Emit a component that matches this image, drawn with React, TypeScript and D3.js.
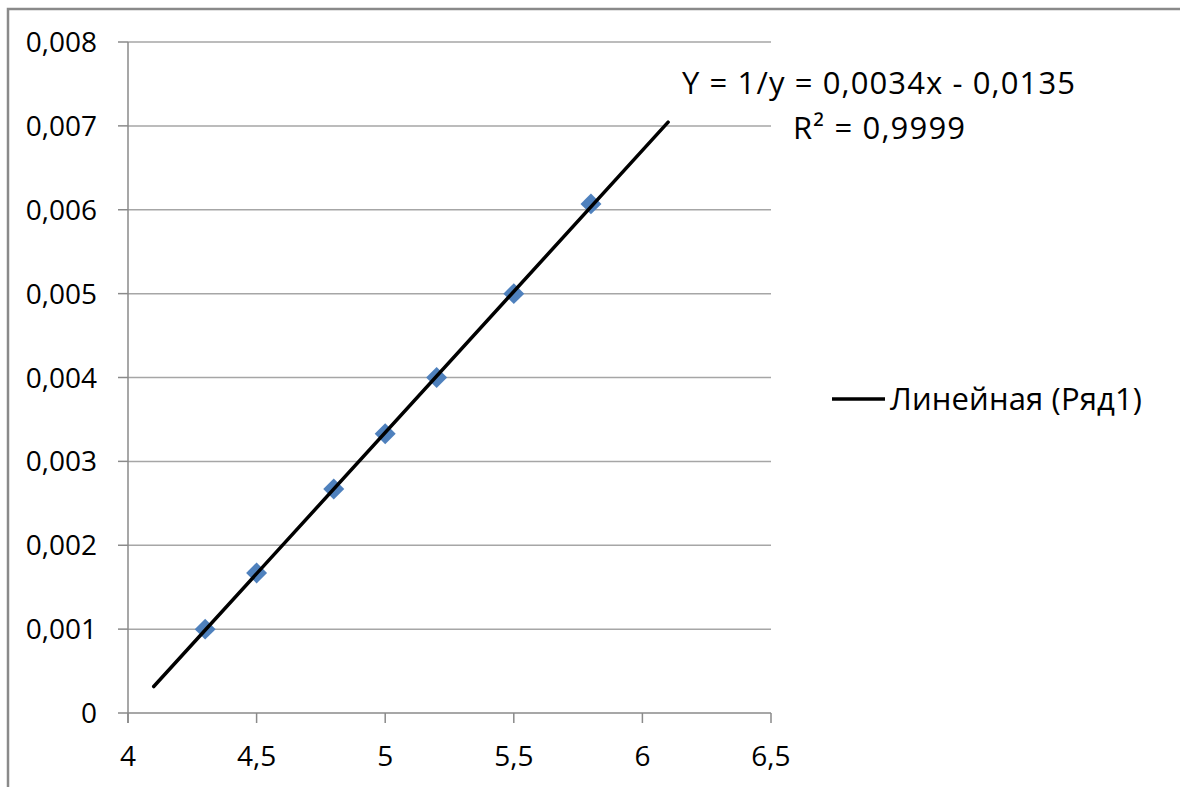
import React from "react";
import * as d3 from "d3";

// measured points (x, 1/y)
const xValues = [4.3, 4.5, 4.8, 5.0, 5.2, 5.5, 5.8];
const yValues = [0.001, 0.00167, 0.00267, 0.00333, 0.004, 0.005, 0.00607];
const xTicks = [4, 4.5, 5, 5.5, 6, 6.5];
const yTicks = [0, 0.001, 0.002, 0.003, 0.004, 0.005, 0.006, 0.007, 0.008];
const trendRange = [4.1, 6.1];
const equationLabel = "Y = 1/y = 0,0034x - 0,0135";
const r2Label = "R² = 0,9999";
const legendLabel = "Линейная (Ряд1)";

const W = 1180;
const H = 787;
const font = "'Open Sans', 'Noto Sans', sans-serif";
const fs = 28;
const labelFs = 31;

const fmt = (v: number) => (v === 0 ? "0" : String(v).replace(".", ","));

const App = () => {
  const x = d3.scaleLinear().domain([4, 6.5]).range([128, 771]);
  const y = d3.scaleLinear().domain([0, 0.008]).range([713, 42]);

  const mx = d3.mean(xValues) as number;
  const my = d3.mean(yValues) as number;
  let sxy = 0;
  let sxx = 0;
  xValues.forEach((v, i) => {
    sxy += (v - mx) * (yValues[i] - my);
    sxx += (v - mx) * (v - mx);
  });
  const slope = sxy / sxx;
  const icpt = my - slope * mx;

  const trend = d3
    .line<number>()
    .x((d) => x(d))
    .y((d) => y(slope * d + icpt))(trendRange);

  const diamond = d3.symbol(d3.symbolDiamond2, 280)();

  return (
    <svg
      width={W}
      height={H}
      style={{ position: "absolute", left: 0, top: 0, background: "#fff" }}
      fontFamily={font}
    >
      <rect x={8} y={9} width={W + 20} height={H + 20} fill="none" stroke="#8a8a8a" strokeWidth={2.5} />

      {/* grid */}
      {yTicks.map((t) => (
        <line
          key={"g" + t}
          x1={x(4)}
          x2={x(6.5)}
          y1={y(t)}
          y2={y(t)}
          stroke={t === 0 ? "#8a8a8a" : "#a6a6a6"}
          strokeWidth={1.5}
        />
      ))}

      {/* y axis */}
      <line x1={x(4)} x2={x(4)} y1={y(0.008)} y2={y(0) + 10} stroke="#8a8a8a" strokeWidth={1.5} />
      {yTicks.map((t) => (
        <g key={"y" + t}>
          <line x1={x(4) - 10} x2={x(4)} y1={y(t)} y2={y(t)} stroke="#8a8a8a" strokeWidth={1.5} />
          <text x={97} y={y(t)} dy="0.36em" textAnchor="end" fontSize={fs} fill="#000">
            {fmt(t)}
          </text>
        </g>
      ))}

      {/* x axis */}
      {xTicks.map((t) => (
        <g key={"x" + t}>
          <line x1={x(t)} x2={x(t)} y1={y(0)} y2={y(0) + 10} stroke="#8a8a8a" strokeWidth={1.5} />
          <text x={x(t)} y={766} textAnchor="middle" fontSize={fs} fill="#000">
            {fmt(t)}
          </text>
        </g>
      ))}

      {/* points */}
      {xValues.map((v, i) => (
        <path key={"p" + i} d={diamond} transform={`translate(${x(v)},${y(yValues[i])})`} fill="#4f81bd" />
      ))}

      {/* trend line */}
      <path d={trend} fill="none" stroke="#000" strokeWidth={3.5} strokeLinecap="round" />

      {/* trendline label */}
      <text x={682} y={94} fontSize={labelFs} fill="#000" textLength={393} lengthAdjust="spacing">
        {equationLabel}
      </text>
      <text x={793} y={139} fontSize={labelFs} fill="#000" textLength={172} lengthAdjust="spacing">
        {r2Label}
      </text>

      {/* legend */}
      <line x1={832} x2={885} y1={399} y2={399} stroke="#000" strokeWidth={3.5} />
      <text x={890} y={399} dy="0.36em" fontSize={labelFs} fill="#000" textLength={252} lengthAdjust="spacing">
        {legendLabel}
      </text>
    </svg>
  );
};

export default App;
